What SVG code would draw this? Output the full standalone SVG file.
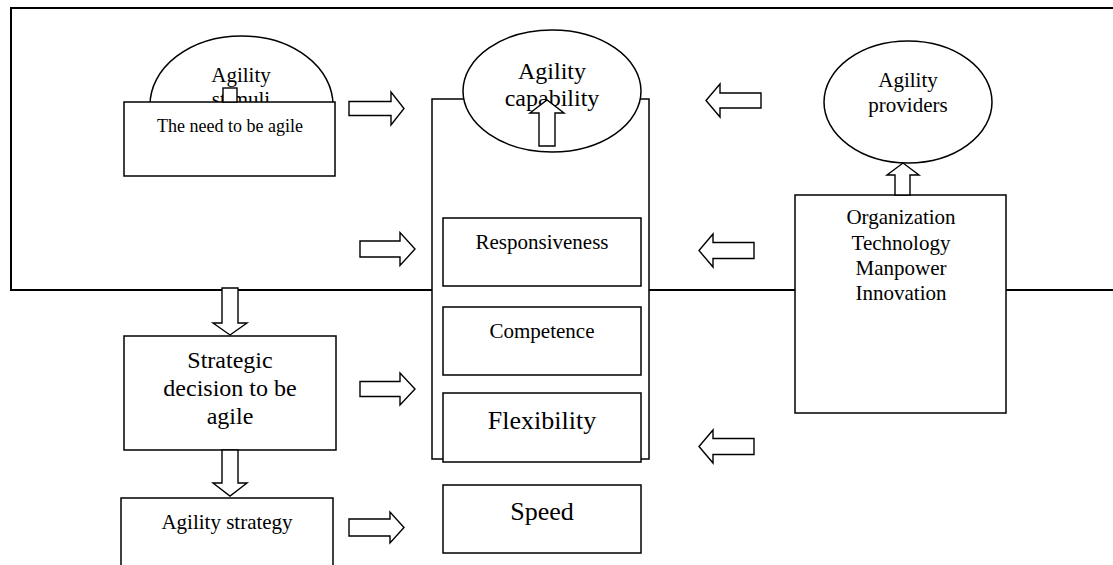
<svg xmlns="http://www.w3.org/2000/svg" width="1113" height="565" viewBox="0 0 1113 565">
<style>
.box{fill:#fff;stroke:#000;stroke-width:1.5}
.frame{fill:none;stroke:#000;stroke-width:2}
.arr{fill:#fff;stroke:#000;stroke-width:1.4;stroke-linejoin:miter}
text{font-family:"Liberation Serif","Times New Roman",serif;fill:#000;text-anchor:middle}
.t18{font-size:18px}.t21{font-size:21px}.t24{font-size:24px}.t26{font-size:26px}
</style>
<rect width="1113" height="565" fill="#fff"/>
<g id="frame"><rect class="frame" x="11" y="8" width="1120" height="282"/></g>
<g id="agility-stimuli">
<ellipse class="box" cx="241.5" cy="105" rx="91.5" ry="69"/>
<text class="t21" x="241" y="82">Agility</text>
<text class="t21" x="241" y="106">stimuli</text>
</g>
<g id="need-to-be-agile">
<rect class="box" x="124" y="102" width="211" height="74"/>
<text class="t18" x="230" y="132">The need to be agile</text>
</g>
<g id="agility-capability">
<rect class="box" x="432" y="99" width="217" height="360"/>
<ellipse class="box" cx="552" cy="91" rx="89" ry="61"/>
<text class="t24" x="552" y="79">Agility</text>
<text class="t24" x="552" y="106">capability</text>
</g>
<g id="responsiveness">
<rect class="box" x="443" y="218" width="198" height="68"/>
<text class="t21" x="542" y="249">Responsiveness</text>
</g>
<g id="competence">
<rect class="box" x="443" y="307" width="198" height="68"/>
<text class="t21" x="542" y="338">Competence</text>
</g>
<g id="flexibility">
<rect class="box" x="443" y="393" width="198" height="69"/>
<text class="t26" x="542" y="429">Flexibility</text>
</g>
<g id="speed">
<rect class="box" x="443" y="485" width="198" height="68"/>
<text class="t26" x="542" y="520">Speed</text>
</g>
<g id="agility-providers">
<ellipse class="box" cx="908" cy="102" rx="84" ry="61"/>
<text class="t21" x="908" y="87">Agility</text>
<text class="t21" x="908" y="112">providers</text>
</g>
<g id="provider-list">
<rect class="box" x="795" y="195" width="211" height="218"/>
<text class="t21" x="901" y="224">Organization</text>
<text class="t21" x="901" y="249.5">Technology</text>
<text class="t21" x="901" y="275">Manpower</text>
<text class="t21" x="901" y="300">Innovation</text>
</g>
<g id="strategic-decision">
<rect class="box" x="124" y="336" width="212" height="114"/>
<text class="t24" x="230" y="368">Strategic</text>
<text class="t24" x="230" y="396">decision to be</text>
<text class="t24" x="230" y="424">agile</text>
</g>
<g id="agility-strategy">
<rect class="box" x="121" y="498" width="212" height="80"/>
<text class="t21" x="227" y="529">Agility strategy</text>
</g>
<g id="connectors">
<rect class="arr" x="223" y="88" width="14" height="14"/>
<path class="arr" d="M349,101.5 L391,101.5 L391,92 L404,108.5 L391,125 L391,115.5 L349,115.5 Z"/>
<path class="arr" d="M360,241 L400,241 L400,232.5 L415,249 L400,265.5 L400,257 L360,257 Z"/>
<path class="arr" d="M360,381.5 L400,381.5 L400,373 L415,389 L400,405 L400,396.5 L360,396.5 Z"/>
<path class="arr" d="M349,519 L390,519 L390,512 L404,527.5 L390,543 L390,536 L349,536 Z"/>
<path class="arr" d="M761,93 L720,93 L720,84 L706,100.5 L720,117 L720,108 L761,108 Z"/>
<path class="arr" d="M754,242.5 L713,242.5 L713,234 L699,250.5 L713,267 L713,258.5 L754,258.5 Z"/>
<path class="arr" d="M754,438.5 L713,438.5 L713,430 L699,446.5 L713,463 L713,454.5 L754,454.5 Z"/>
<path class="arr" d="M539,146 L539,113 L530,113 L547,100 L564,113 L555,113 L555,146 Z"/>
<path class="arr" d="M895,195 L895,175 L887,175 L903,163 L919,175 L910,175 L910,195 Z"/>
<path class="arr" d="M222,288 L222,323 L213,323 L230,335 L247,323 L238,323 L238,288 Z"/>
<path class="arr" d="M222,450 L222,483 L213,483 L230,496 L247,483 L238,483 L238,450 Z"/>
</g>
</svg>
